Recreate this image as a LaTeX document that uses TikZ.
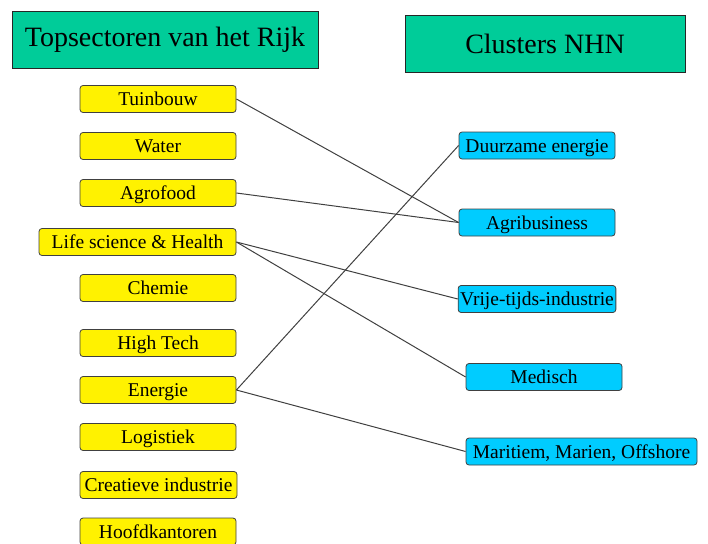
\documentclass[tikz,border=0pt]{standalone}
\usepackage{fontspec}
\setmainfont{Liberation Serif}
\definecolor{titlegreen}{HTML}{00CC99}
\definecolor{clusterblue}{HTML}{00CCFF}
\tikzset{
heading/.style={draw=black!85, thick, fill=titlegreen, minimum height=57pt, font=\fontsize{28}{28}\selectfont}, % the two title boxes
sector/.style={draw=black!75, thick, rounded corners=3pt, fill=yellow, minimum width=156pt, minimum height=27pt, inner xsep=2pt, inner ysep=0pt, text height=15pt, text depth=2pt, font=\fontsize{19.5}{19.5}\selectfont}, % topsector boxes
cluster/.style={sector, fill=clusterblue}, % cluster boxes
link/.style={draw=black!75, line width=1pt}, % the connecting lines
}

\begin{document}
\begin{tikzpicture}[x=1pt, y=-1pt]
                \useasboundingbox (0,0) rectangle (708,543);
                \clip (0,0) rectangle (708,543);

                \node[heading, minimum width=306pt] (top) at (165,40) {Topsectoren van het Rijk};
                \node[heading, minimum width=280pt] (nhn) at (545,44) {Clusters NHN};

                \node[sector] (tuin) at (158,99) {Tuinbouw};
                \node[sector] (water) at (158,146) {Water};
                \node[sector] (agro) at (158,193) {Agrofood};
                \node[sector, minimum width=197pt] (life) at (137.5,242) {Life science \& Health};
                \node[sector] (chem) at (158,288) {Chemie};
                \node[sector] (tech) at (158,343) {High Tech};
                \node[sector] (energie) at (158,390) {Energie};
                \node[sector] (logi) at (158,437) {Logistiek};
                \node[sector, minimum width=157pt] (creatief) at (158.5,485) {Creatieve industrie};
                \node[sector] (hoofd) at (158,531.5) {Hoofdkantoren};

                \node[cluster] (duurzaam) at (537,145.5) {Duurzame energie};
                \node[cluster] (agri) at (537,222.5) {Agribusiness};
                \node[cluster] (vrije) at (537,299) {Vrije-tijds-industrie};
                \node[cluster] (medisch) at (544,377) {Medisch};
                \node[cluster, minimum width=231pt] (maritiem) at (581.5,451.5) {Maritiem, Marien, Offshore};

                \draw[link] (tuin.east) -- (agri.west);
                \draw[link] (agro.east) -- (agri.west);
                \draw[link] (life.east) -- (vrije.west);
                \draw[link] (life.east) -- (medisch.west);
                \draw[link] (energie.east) -- (duurzaam.west);
                \draw[link] (energie.east) -- (maritiem.west);
\end{tikzpicture}
\end{document}
